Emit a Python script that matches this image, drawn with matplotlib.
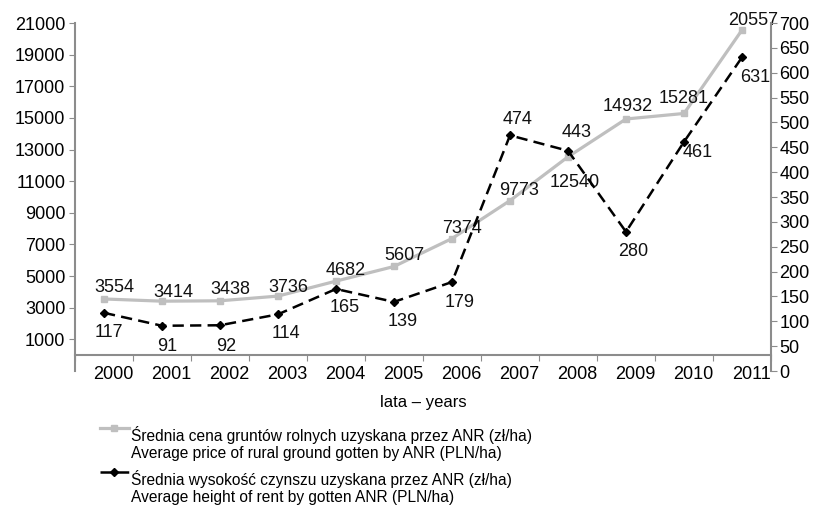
import numpy as np
import matplotlib
matplotlib.use("Agg")
import matplotlib.pyplot as plt
from matplotlib.legend_handler import HandlerLine2D

plt.rcParams['font.family'] = ['Liberation Sans', 'DejaVu Sans']

years = ['2000', '2001', '2002', '2003', '2004', '2005',
         '2006', '2007', '2008', '2009', '2010', '2011']
price = [3554, 3414, 3438, 3736, 4682, 5607, 7374, 9773, 12540, 14932, 15281, 20557]
rent = [117, 91, 92, 114, 165, 139, 179, 474, 443, 280, 461, 631]

price_label = "Średnia cena gruntów rolnych uzyskana przez ANR (zł/ha)\nAverage price of rural ground gotten by ANR (PLN/ha)"
rent_label = "Średnia wysokość czynszu uzyskana przez ANR (zł/ha)\nAverage height of rent by gotten ANR (PLN/ha)"

# label offsets in pixels (dx, dy)
price_off = [(10, 11), (11, 9), (10, 11), (10, 9), (10, 11), (10, 11),
             (10, 10), (9, 10), (7, -26), (2, 12), (0, 15), (11, 10)]
rent_off = [(5, -20), (5, -21), (6, -21), (8, -19), (9, -19), (9, -20),
            (8, -20), (8, 16), (9, 18), (7, -20), (14, -11), (13, -20)]


class TopLineHandler(HandlerLine2D):
    # put the legend symbol level with the first line of a two-line label
    def create_artists(self, legend, orig_handle, xdescent, ydescent,
                       width, height, fontsize, trans):
        return super().create_artists(legend, orig_handle, xdescent, ydescent - 24,
                                      width, height, fontsize, trans)


W, H = 813, 509
fig = plt.figure(figsize=(W / 100, H / 100), dpi=100)
ax = fig.add_axes([75 / W, 1 - 371 / H, (771 - 75) / W, (371 - 23) / H])
ax2 = ax.twinx()

x = np.arange(len(years)) + 0.5
axis_col = '#8c8c8c'

l1, = ax.plot(x, price, color='#bfbfbf', lw=2.3, marker='s', ms=5,
              label=price_label, zorder=2)
l2, = ax2.plot(x, rent, color='black', lw=1.8, marker='D', ms=4.5,
               dashes=(4.5, 2.5), label=rent_label, zorder=3)

for xi, v, (dx, dy) in zip(x, price, price_off):
    ax.annotate(str(v), (xi, v), xytext=(dx, dy), textcoords='offset pixels',
                ha='center', va='center', fontsize=13, color='#111111')
for xi, v, (dx, dy) in zip(x, rent, rent_off):
    ax2.annotate(str(v), (xi, v), xytext=(dx, dy), textcoords='offset pixels',
                 ha='center', va='center', fontsize=13, color='#111111')

ax.set_xlim(0, 12)
ax.set_ylim(-1000, 21000)
ax2.set_ylim(0, 700)

ax.set_yticks(range(1000, 21001, 2000))
ax.tick_params(axis='y', labelsize=13, length=4, color=axis_col, pad=3)
ax2.set_yticks(range(0, 701, 50))
ax2.tick_params(axis='y', labelsize=13, length=4, color=axis_col, pad=2)

# category axis crosses at 0 on the left scale
ax.spines['bottom'].set_position(('data', 0))
ax.set_xticks(range(0, 13))
ax.set_xticklabels([])
ax.set_xticks(x + 0.16, minor=True)
ax.set_xticklabels(years, minor=True)
ax.tick_params(axis='x', which='major', length=4, color=axis_col, direction='out')
ax.tick_params(axis='x', which='minor', length=0, labelsize=13, pad=8)

for s in ['top', 'right']:
    ax.spines[s].set_visible(False)
for s in ['top', 'bottom', 'left']:
    ax2.spines[s].set_visible(False)
for sp in [ax.spines['left'], ax.spines['bottom'], ax2.spines['right']]:
    sp.set_color(axis_col)
    sp.set_linewidth(1.5)

fig.text(423 / W, 1 - 402 / H, 'lata – years', ha='center', va='center', fontsize=12)

fig.legend(handles=[l1, l2], loc='upper left', bbox_to_anchor=(100 / W, 1 - 426 / H),
           frameon=False, fontsize=11.2, handlelength=1.85, handletextpad=0.12,
           labelspacing=0.55, borderaxespad=0, borderpad=0,
           handler_map={l1: TopLineHandler(), l2: TopLineHandler()})

fig.savefig('out.png', dpi=100)
